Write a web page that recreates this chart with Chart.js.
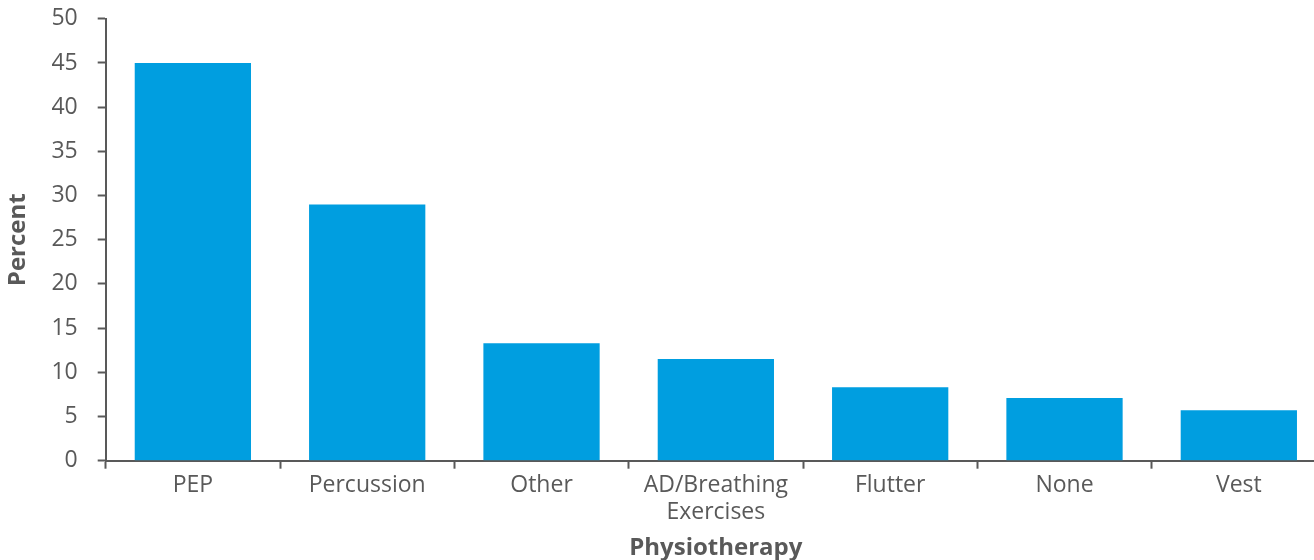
<!DOCTYPE html>
<html>
<head>
<meta charset="utf-8">
<script src="https://cdn.jsdelivr.net/npm/chart.js@4.4.1/dist/chart.umd.min.js"></script>
<style>
  html, body { margin: 0; padding: 0; background: #fff; overflow: hidden; }
  #wrap { width: 1326px; height: 576px; margin-top: -15px; }
</style>
</head>
<body>
<div id="wrap"><canvas id="physioChart"></canvas></div>
<script>
const categories = ["PEP", "Percussion", "Other", ["AD/Breathing", "Exercises"], "Flutter", "None", "Vest"];
const percentValues = [45.0, 29.0, 13.3, 11.5, 8.3, 7.1, 5.7];
const yTicks = [0, 5, 10, 15, 20, 25, 30, 35, 40, 45, 50];

const textColor = "#595959";
const axisColor = "#595959";

Chart.defaults.font.family = "'Open Sans', sans-serif";
Chart.defaults.color = textColor;

const ctx = document.getElementById("physioChart").getContext("2d");
new Chart(ctx, {
  type: "bar",
  data: {
    labels: categories,
    datasets: [{
      label: "Percent",
      data: percentValues,
      backgroundColor: "#009ee0",
      borderWidth: 0,
      categoryPercentage: 1.0,
      barPercentage: 0.667
    }]
  },
  options: {
    responsive: true,
    maintainAspectRatio: false,
    animation: false,
    layout: { padding: { top: 4, left: 5, right: 0, bottom: 0 } },
    plugins: {
      legend: { display: false },
      tooltip: { enabled: false }
    },
    scales: {
      x: {
        offset: true,
        border: { color: axisColor, width: 2 },
        grid: {
          display: true,
          offset: true,
          drawOnChartArea: false,
          drawTicks: true,
          tickLength: 8,
          tickWidth: 2,
          color: axisColor
        },
        ticks: {
          color: textColor,
          font: { size: 23, lineHeight: 1.15 },
          padding: 4,
          maxRotation: 0,
          autoSkip: false
        },
        title: {
          display: true,
          text: "Physiotherapy",
          color: textColor,
          font: { size: 24, weight: "bold", lineHeight: 1.1 },
          padding: { top: 5, bottom: 0 }
        }
      },
      y: {
        min: 0,
        max: 50,
        afterBuildTicks: axis => { axis.ticks = yTicks.map(v => ({ value: v })); },
        border: { color: axisColor, width: 2 },
        grid: {
          display: true,
          drawOnChartArea: false,
          drawTicks: true,
          tickLength: 8,
          tickWidth: 2,
          color: axisColor
        },
        ticks: {
          color: textColor,
          font: { size: 23 },
          padding: 20
        },
        title: {
          display: true,
          text: "Percent",
          color: textColor,
          font: { size: 24, weight: "bold", lineHeight: 1.1 },
          padding: { top: 0, bottom: 0 }
        }
      }
    }
  }
});
</script>
</body>
</html>
